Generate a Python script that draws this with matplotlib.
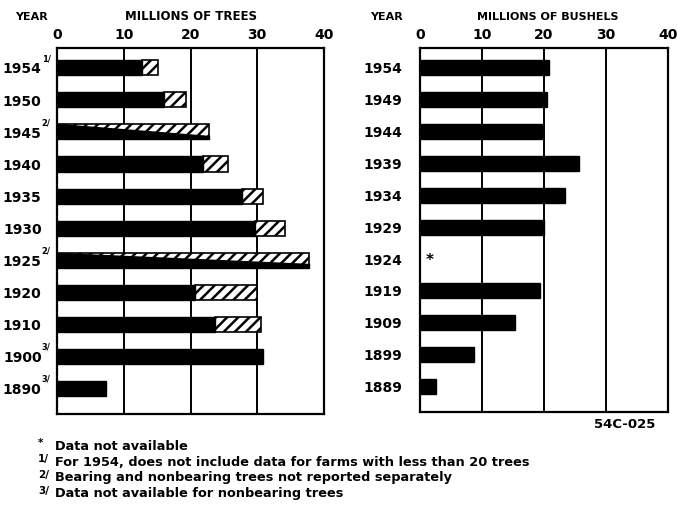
import matplotlib.pyplot as plt
import numpy as np
from matplotlib.patches import Polygon

plt.rcParams['font.family'] = 'DejaVu Sans'
plt.rcParams['hatch.linewidth'] = 1.8

# Trees (millions): bearing and nonbearing
tree_years = ['1954', '1950', '1945', '1940', '1935', '1930', '1925', '1920', '1910', '1900', '1890']
tree_notes = ['1/', '', '2/', '', '', '', '2/', '', '', '3/', '3/']
bearing = [12.8, 16.1, np.nan, 21.9, 27.7, 29.7, np.nan, 20.7, 23.6, 30.9, 7.4]
total_trees = [15.2, 19.3, 22.8, 25.6, 30.9, 34.1, 37.8, 30.0, 30.5, 30.9, 7.4]

# Production (millions of bushels)
bushel_years = ['1954', '1949', '1944', '1939', '1934', '1929', '1924', '1919', '1909', '1899', '1889']
bushels = [20.8, 20.5, 19.7, 25.6, 23.4, 20.0, np.nan, 19.3, 15.4, 8.7, 2.5]

footnotes = ['Data not available',
             'For 1954, does not include data for farms with less than 20 trees',
             'Bearing and nonbearing trees not reported separately',
             'Data not available for nonbearing trees']
note_marks = ['*', '1/', '2/', '3/']

fig = plt.figure(figsize=(6.77, 5.07), dpi=100)
ax1 = fig.add_axes([57/677, 93/507, 267/677, 366/507])
ax2 = fig.add_axes([420/677, 95/507, 248/677, 364/507])

y = np.arange(len(tree_years))
h = 0.47

def style_axis(ax):
    ax.set_xlim(0, 40)
    ax.set_ylim(10.8, -0.62)
    ax.xaxis.tick_top()
    ax.set_xticks([0, 10, 20, 30, 40])
    ax.set_xticklabels(['0', '10', '20', '30', '40'], fontsize=10, fontweight='bold')
    ax.tick_params(axis='x', length=0, pad=4)
    ax.set_yticks([])
    for s in ax.spines.values():
        s.set_linewidth(1.6)
    for v in [10, 20, 30]:
        ax.axvline(v, color='black', lw=1.4, zorder=0)

style_axis(ax1)
style_axis(ax2)

# left panel
for i in range(len(tree_years)):
    tot = total_trees[i]
    b = bearing[i]
    if np.isnan(b):
        # not reported separately: wedge of black under the hatch
        ax1.barh(y[i], tot, height=h, color='white', edgecolor='black', hatch='///', lw=1.2)
        top, bot = y[i] - h/2, y[i] + h/2
        wedge = Polygon([(0, top), (0, bot), (tot, bot), (tot, bot - 0.25 * h)],
                        closed=True, facecolor='black', edgecolor='black', lw=1)
        ax1.add_patch(wedge)
    else:
        ax1.barh(y[i], tot - b, left=b, height=h, color='white', edgecolor='black', hatch='///', lw=1.2)
        ax1.barh(y[i], b, height=h, color='black', edgecolor='black')
    ax1.text(-2.3, y[i] + 0.05, tree_years[i], ha='right', va='center', fontsize=10,
             fontweight='bold', clip_on=False)
    if tree_notes[i]:
        ax1.text(-2.3, y[i] - 0.28, tree_notes[i], ha='left', va='center', fontsize=6,
                 fontweight='bold', clip_on=False)

# right panel
for i in range(len(bushel_years)):
    v = bushels[i]
    if np.isnan(v):
        ax2.text(1.6, y[i] + 0.05, '*', ha='center', va='center', fontsize=11, fontweight='bold')
    else:
        ax2.barh(y[i], v, height=h, color='black', edgecolor='black')
    ax2.text(-2.9, y[i] + 0.05, bushel_years[i], ha='right', va='center', fontsize=10,
             fontweight='bold', clip_on=False)

fig.text(15/677, 1 - 17/507, 'YEAR', fontsize=8, fontweight='bold', va='center')
fig.text(191/677, 1 - 17/507, 'MILLIONS OF TREES', fontsize=8.5, fontweight='bold', va='center', ha='center')
fig.text(370/677, 1 - 17/507, 'YEAR', fontsize=8, fontweight='bold', va='center')
fig.text(548/677, 1 - 17/507, 'MILLIONS OF BUSHELS', fontsize=8, fontweight='bold', va='center', ha='center')
fig.text(655/677, 1 - 425/507, '54C-025', fontsize=9.5, fontweight='bold', va='center', ha='right')

for k in range(len(footnotes)):
    yy = 1 - (446 + 16 * k) / 507
    fig.text(38/677, yy + 0.006, note_marks[k], fontsize=7.5, fontweight='bold', va='center')
    fig.text(55/677, yy, footnotes[k], fontsize=9.3, fontweight='bold', va='center')

fig.savefig('out.png', dpi=100)
